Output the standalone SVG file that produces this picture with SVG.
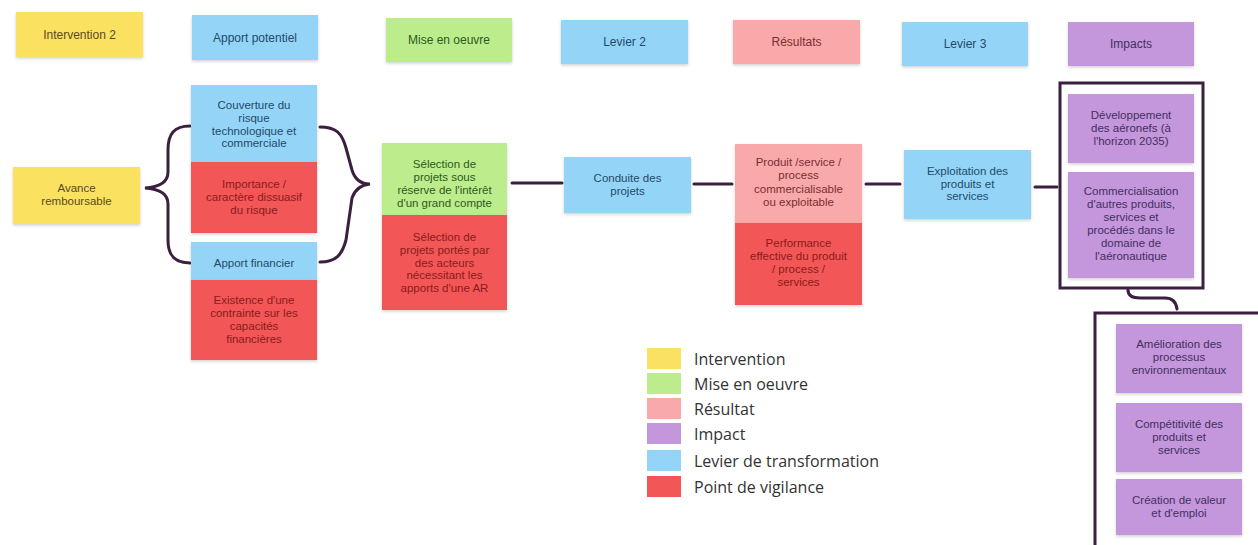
<svg xmlns="http://www.w3.org/2000/svg" width="1258" height="545" viewBox="0 0 1258 545">
<defs>
<filter id="sh" x="-10%" y="-10%" width="120%" height="130%">
<feDropShadow dx="0" dy="1.5" stdDeviation="1.5" flood-color="#000" flood-opacity="0.18"/>
</filter>
</defs>
<style>
rect.b{filter:url(#sh);}
.y{fill:#fae161;}
.bl{fill:#94d5f7;}
.g{fill:#bdec8c;}
.p{fill:#f9a9a9;}
.pu{fill:#c496dc;}
.r{fill:#f25656;}
text{font-family:"Liberation Sans",Arial,sans-serif;font-size:11.5px;text-anchor:middle;}
.h{font-size:12px;}
.ty{fill:#5a4a20;}
.tb{fill:#234a6a;}
.tg{fill:#2d5a1e;}
.tp{fill:#7a2e30;}
.tr{fill:#8a1c1c;}
.tu{fill:#43305e;}
.ln{fill:none;stroke:#3b1f3e;stroke-width:3;stroke-linecap:round;}
.fr{fill:none;stroke:#3b1f3e;stroke-width:3;}
.lg{font-family:"Open Sans","Liberation Sans",sans-serif;font-size:16px;text-anchor:start;fill:#333;}
</style>

<g id="connectors">
<path class="ln" d="M190,126 C174,126 168,134 168,150 L168,172 C168,182 160,187 145,188 C160,189 168,194 168,204 L168,240 C168,255 174,263 190,263"/>
<path class="ln" d="M320,127 C336,127 342,133 346,148 L352,170 C355,180 361,184 370,184 C361,185 355,189 352,198 L346,240 C342,255 336,262 320,262"/>
<path class="ln" d="M512,183 H562"/>
<path class="ln" d="M694,184 H732"/>
<path class="ln" d="M866,184 H900"/>
<path class="ln" d="M1035,187 H1057"/>
<path class="ln" d="M1128,290 C1128,295 1132,298 1140,298 L1165,298 C1172,298 1176,301 1177,309"/>
<rect class="fr" x="1060" y="83" width="143" height="205"/>
<rect class="fr" x="1095" y="313" width="190" height="260"/>
</g>

<g id="hdr-intervention"><rect class="b y" x="16" y="12" width="127" height="45"/><text class="h ty" x="79.5" y="38.5">Intervention 2</text></g>
<g id="hdr-apport"><rect class="b bl" x="192" y="15" width="126" height="45"/><text class="h tb" x="255" y="41.5">Apport potentiel</text></g>
<g id="hdr-mise"><rect class="b g" x="386" y="18" width="126" height="44"/><text class="h tg" x="449" y="44">Mise en oeuvre</text></g>
<g id="hdr-levier2"><rect class="b bl" x="561" y="20" width="127" height="44"/><text class="h tb" x="624.5" y="46">Levier 2</text></g>
<g id="hdr-resultats"><rect class="b p" x="733" y="20" width="127" height="44"/><text class="h tp" x="796.5" y="46">Résultats</text></g>
<g id="hdr-levier3"><rect class="b bl" x="902" y="22" width="126" height="44"/><text class="h tb" x="965" y="48">Levier 3</text></g>
<g id="hdr-impacts"><rect class="b pu" x="1068" y="22" width="126" height="44"/><text class="h tu" x="1131" y="48">Impacts</text></g>

<g id="avance"><rect class="b y" x="13" y="167" width="127" height="57"/>
<text class="ty" x="76.5" y="192">Avance</text><text class="ty" x="76.5" y="205">remboursable</text></g>

<g id="couverture"><rect class="b bl" x="191" y="85" width="126" height="77"/>
<text class="tb" x="254" y="109">Couverture du</text><text class="tb" x="254" y="122">risque</text><text class="tb" x="254" y="135">technologique et</text><text class="tb" x="254" y="147">commerciale</text></g>
<g id="importance"><rect class="b r" x="191" y="162" width="126" height="71"/>
<text class="tr" x="254" y="188">Importance /</text><text class="tr" x="254" y="201">caractère dissuasif</text><text class="tr" x="254" y="214">du risque</text></g>
<g id="apport-financier"><rect class="b bl" x="191" y="242" width="126" height="38"/>
<text class="tb" x="254" y="267">Apport financier</text></g>
<g id="existence"><rect class="b r" x="191" y="280" width="126" height="80"/>
<text class="tr" x="254" y="304">Existence d'une</text><text class="tr" x="254" y="317">contrainte sur les</text><text class="tr" x="254" y="330">capacités</text><text class="tr" x="254" y="343">financières</text></g>

<g id="selection-grand-compte"><rect class="b g" x="382" y="143" width="125" height="72"/>
<text class="tg" x="444.5" y="168">Sélection de</text><text class="tg" x="444.5" y="181">projets sous</text><text class="tg" x="444.5" y="194">réserve de l'intérêt</text><text class="tg" x="444.5" y="207">d'un grand compte</text></g>
<g id="selection-acteurs"><rect class="b r" x="382" y="215" width="125" height="95"/>
<text class="tr" x="444.5" y="241">Sélection de</text><text class="tr" x="444.5" y="254">projets portés par</text><text class="tr" x="444.5" y="267">des acteurs</text><text class="tr" x="444.5" y="279">nécessitant les</text><text class="tr" x="444.5" y="292">apports d'une AR</text></g>

<g id="conduite"><rect class="b bl" x="564" y="157" width="127" height="56"/>
<text class="tb" x="627.5" y="182">Conduite des</text><text class="tb" x="627.5" y="195">projets</text></g>

<g id="produit"><rect class="b p" x="735" y="144" width="127" height="79"/>
<text class="tp" x="798.5" y="166">Produit /service /</text><text class="tp" x="798.5" y="179">process</text><text class="tp" x="798.5" y="193">commercialisable</text><text class="tp" x="798.5" y="206">ou exploitable</text></g>
<g id="performance"><rect class="b r" x="735" y="223" width="127" height="82"/>
<text class="tr" x="798.5" y="247">Performance</text><text class="tr" x="798.5" y="260">effective du produit</text><text class="tr" x="798.5" y="273">/ process /</text><text class="tr" x="798.5" y="286">services</text></g>

<g id="exploitation"><rect class="b bl" x="904" y="150" width="127" height="69"/>
<text class="tb" x="967.5" y="175">Exploitation des</text><text class="tb" x="967.5" y="188">produits et</text><text class="tb" x="967.5" y="200">services</text></g>

<g id="developpement"><rect class="b pu" x="1068" y="94" width="126" height="69"/>
<text class="tu" x="1131" y="119">Développement</text><text class="tu" x="1131" y="132">des aéronefs (à</text><text class="tu" x="1131" y="145">l'horizon 2035)</text></g>
<g id="commercialisation"><rect class="b pu" x="1068" y="172" width="126" height="106"/>
<text class="tu" x="1131" y="195">Commercialisation</text><text class="tu" x="1131" y="208">d'autres produits,</text><text class="tu" x="1131" y="221">services et</text><text class="tu" x="1131" y="234">procédés dans le</text><text class="tu" x="1131" y="247">domaine de</text><text class="tu" x="1131" y="260">l'aéronautique</text></g>

<g id="amelioration"><rect class="b pu" x="1116" y="324" width="126" height="69"/>
<text class="tu" x="1179" y="348">Amélioration des</text><text class="tu" x="1179" y="361">processus</text><text class="tu" x="1179" y="374">environnementaux</text></g>
<g id="competitivite"><rect class="b pu" x="1116" y="403" width="126" height="69"/>
<text class="tu" x="1179" y="428">Compétitivité des</text><text class="tu" x="1179" y="441">produits et</text><text class="tu" x="1179" y="454">services</text></g>
<g id="creation"><rect class="b pu" x="1116" y="479" width="126" height="56"/>
<text class="tu" x="1179" y="504">Création de valeur</text><text class="tu" x="1179" y="517">et d'emploi</text></g>

<g id="legend">
<rect class="y" x="647" y="348" width="34" height="21"/><text class="lg" x="694" y="365">Intervention</text>
<rect class="g" x="647" y="373" width="34" height="21"/><text class="lg" x="694" y="390">Mise en oeuvre</text>
<rect class="p" x="647" y="398" width="34" height="21"/><text class="lg" x="694" y="415">Résultat</text>
<rect class="pu" x="647" y="423" width="34" height="21"/><text class="lg" x="694" y="440">Impact</text>
<rect class="bl" x="647" y="450" width="34" height="21"/><text class="lg" x="694" y="467">Levier de transformation</text>
<rect class="r" x="647" y="476" width="34" height="21"/><text class="lg" x="694" y="493">Point de vigilance</text>
</g>
</svg>
